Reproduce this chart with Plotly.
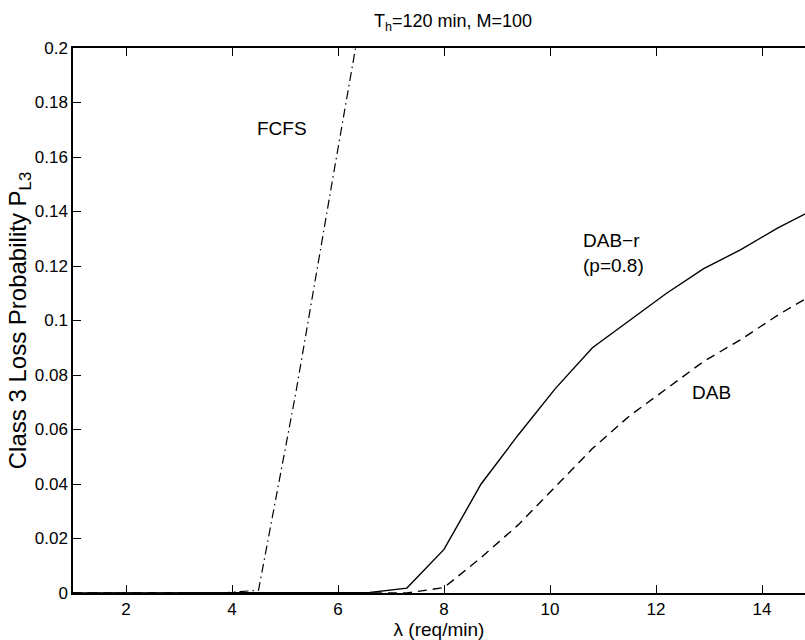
import plotly.graph_objects as go

lam = [1.0, 1.7, 2.4, 3.1, 3.8, 4.5, 5.2, 5.9, 6.6, 7.3, 8.0, 8.7, 9.4, 10.1,
       10.8, 11.5, 12.2, 12.9, 13.6, 14.3, 15.0]
fcfs_lam = [1.0, 1.7, 2.4, 3.1, 3.8, 4.5, 5.2, 5.9, 6.6]
fcfs = [0, 0, 0, 0, 0.0, 0.001, 0.073, 0.152, 0.23]
dab_r = [0, 0, 0, 0, 0, 0, 0, 0, 0.0002, 0.0018, 0.016, 0.040, 0.058, 0.075,
         0.090, 0.100, 0.110, 0.119, 0.126, 0.134, 0.141]
dab = [0, 0, 0, 0, 0, 0, 0, 0, 0, 0.0, 0.002, 0.013, 0.025, 0.039,
       0.053, 0.065, 0.075, 0.085, 0.093, 0.102, 0.110]

xticks = [2, 4, 6, 8, 10, 12, 14]
yticks = [0, 0.02, 0.04, 0.06, 0.08, 0.1, 0.12, 0.14, 0.16, 0.18, 0.2]
ytick_text = ["0", "0.02", "0.04", "0.06", "0.08", "0.1", "0.12", "0.14", "0.16", "0.18", "0.2"]

FONT = "Liberation Sans, Arial, Helvetica, sans-serif"

fig = go.Figure()
fig.add_trace(go.Scatter(x=fcfs_lam, y=fcfs, mode="lines",
                         line=dict(color="black", width=1.2, dash="9px,4px,1.5px,4px")))
fig.add_trace(go.Scatter(x=lam, y=dab_r, mode="lines",
                         line=dict(color="black", width=1.4)))
fig.add_trace(go.Scatter(x=lam, y=dab, mode="lines",
                         line=dict(color="black", width=1.4, dash="9px,6px")))

annos = [
    dict(x=4.94, y=0.1706, text="FCFS"),
    dict(x=11.19, y=0.1248, text="DAB\u2212r<br>(p=0.8)"),
    dict(x=13.04, y=0.0734, text="DAB"),
]
for a in annos:
    fig.add_annotation(x=a["x"], y=a["y"], text=a["text"], showarrow=False,
                       xref="x", yref="y", align="left",
                       font=dict(family=FONT, size=19, color="black"))

fig.add_annotation(x=0.519, y=1, xref="paper", yref="paper", yanchor="bottom",
                   yshift=12, showarrow=False,
                   text="T<sub>h</sub>=120 min, M=100",
                   font=dict(family=FONT, size=18, color="black"))

fig.update_layout(
    width=805, height=640,
    margin=dict(l=73, r=0, t=48, b=47),
    paper_bgcolor="white", plot_bgcolor="white",
    showlegend=False,
    font=dict(family=FONT, size=17, color="black"),
)
fig.update_xaxes(range=[1, 1 + (805 - 73) / 53.0], tickvals=xticks,
                 ticks="inside", ticklen=8, tickwidth=1.2, tickcolor="black",
                 showline=True, linecolor="black", linewidth=1.5, mirror="ticks",
                 showgrid=False, zeroline=False,
                 tickfont=dict(family=FONT, size=17),
                 title=dict(text="\u03bb (req/min)", font=dict(family=FONT, size=19),
                            standoff=0))
fig.update_yaxes(range=[0, 0.2], tickvals=yticks, ticktext=ytick_text,
                 ticks="inside", ticklen=8, tickwidth=1.2, tickcolor="black",
                 showline=True, linecolor="black", linewidth=1.5, mirror=False,
                 showgrid=False, zeroline=False,
                 tickfont=dict(family=FONT, size=17),
                 title=dict(text="Class 3 Loss Probability P<sub>L3</sub>",
                            font=dict(family=FONT, size=24), standoff=1))

fig.write_html("out.html")
